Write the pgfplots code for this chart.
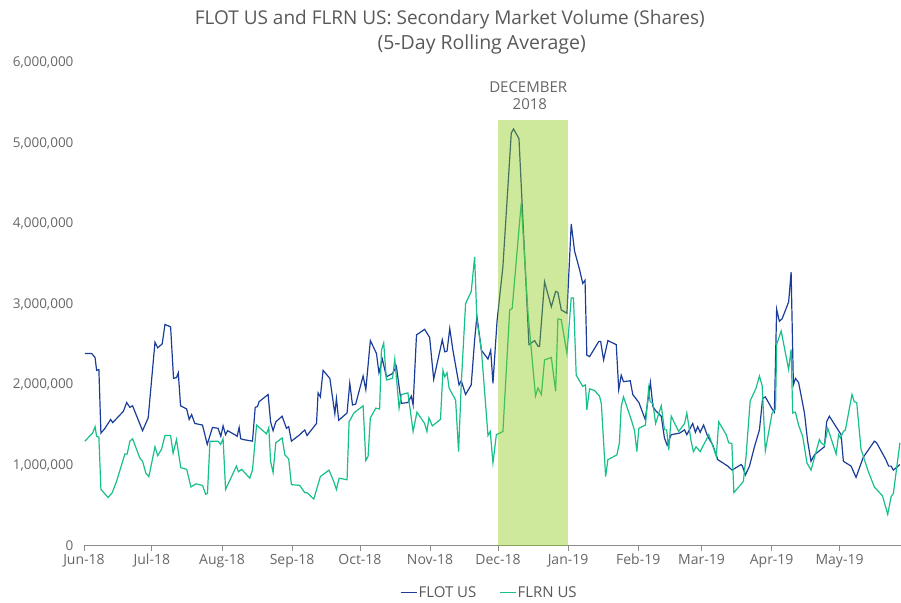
\documentclass[border=0pt]{standalone}
\usepackage{pgfplots}
\pgfplotsset{compat=1.18}
\usepackage{fontspec}
\setmainfont{Open Sans}
\definecolor{flot}{RGB}{26,61,153}
\definecolor{flrn}{RGB}{22,191,140}
\definecolor{band}{RGB}{132,197,7}
\definecolor{txt}{RGB}{89,89,89}
\definecolor{tick}{RGB}{102,102,102}
\definecolor{axl}{RGB}{140,140,140}
\begin{document}
\begin{tikzpicture}
\begin{axis}[
  scale only axis,
  width=817pt, height=483pt,
  xmin=0, xmax=361, ymin=0, ymax=6,
  axis x line*=bottom, axis y line*=left,
  y axis line style={draw=none},
  x axis line style={draw=axl, line width=0.8pt},
  ytick={0,1,2,3,4,5,6},
  yticklabels={{0},{1,000,000},{2,000,000},{3,000,000},{4,000,000},{5,000,000},{6,000,000}},
  ytick style={draw=none},
  yticklabel style={font=\fontsize{13.5}{15}\selectfont, text=tick, xshift=-2pt},
  xtick={0,30,61,92,122,153,183,214,245,273,304,334},
  xticklabels={Jun-18,Jul-18,Aug-18,Sep-18,Oct-18,Nov-18,Dec-18,Jan-19,Feb-19,Mar-19,Apr-19,May-19},
  tick align=outside,
  major tick length=5pt,
  xtick style={draw=axl, line width=0.8pt},
  xticklabel style={font=\fontsize{14}{16}\selectfont, text=tick},
  legend style={at={(0.496,-0.097)}, anchor=center, draw=none, fill=none,
    font=\fontsize{15}{17}\selectfont, text=txt, legend columns=2,
    /tikz/every even column/.append style={column sep=22pt},
    nodes={inner sep=1pt}},
  legend image code/.code={\draw[#1] (0pt,0pt) -- (16pt,0pt);},
  clip=false,
]
\addplot[flot, line width=1.2pt] coordinates {
(0.4,2.39)(3.4,2.39)(4.9,2.34)(5.6,2.18)(6.6,2.19)(7.5,1.40)(9.3,1.46)(11.8,1.57)(12.7,1.53)(17.4,1.67)(18.9,1.78)(20.3,1.72)(21.5,1.74)(25.9,1.43)(28.4,1.59)(31.4,2.53)(32.6,2.46)(34.6,2.51)(35.8,2.75)(38.3,2.72)(39.6,2.08)(40.9,2.09)(41.7,2.15)(42.7,1.74)(45.4,1.70)(46.5,1.57)(47.6,1.63)(49.0,1.52)(52.4,1.50)(54.5,1.26)(56.8,1.47)(59.3,1.46)(60.5,1.36)(61.5,1.49)(62.6,1.38)(63.5,1.43)(66.7,1.38)(67.7,1.36)(68.6,1.47)(69.3,1.33)(70.4,1.32)(74.5,1.30)(75.7,1.72)(76.7,1.73)(77.4,1.79)(81.4,1.88)(82.5,1.54)(83.6,1.43)(84.8,1.54)(87.6,1.61)(89.5,1.46)(90.5,1.48)(91.7,1.30)(95.4,1.38)(97.6,1.44)(98.6,1.37)(102.8,1.52)(103.5,1.90)(104.5,1.85)(105.7,2.18)(108.7,2.08)(110.9,1.64)(111.6,1.83)(112.6,1.56)(116.3,1.65)(117.5,2.02)(118.7,1.75)(120.1,1.76)(123.4,2.11)(124.6,1.94)(126.6,2.55)(129.3,2.39)(130.4,2.15)(131.9,2.32)(133.7,2.10)(136.4,2.14)(138.1,2.23)(140.3,1.77)(143.2,1.78)(144.7,1.86)(145.5,1.75)(147.0,2.62)(150.6,2.69)(152.8,2.59)(154.6,2.07)(158.4,2.56)(159.5,2.41)(160.5,2.42)(161.7,2.70)(163.1,2.43)(165.8,2.00)(166.8,2.05)(168.7,1.88)(171.2,2.00)(172.7,2.56)(173.7,2.85)(175.7,2.43)(178.6,2.32)(179.8,2.43)(180.8,2.02)(182.6,2.79)(185.2,3.47)(188.9,5.13)(189.9,5.18)(192.3,5.06)(196.7,2.50)(199.2,2.55)(200.7,2.48)(201.4,2.48)(203.6,3.28)(206.6,2.97)(208.5,3.16)(209.5,3.15)(211.0,2.93)(213.5,2.89)(215.4,4.00)(216.9,3.66)(219.1,3.43)(220.5,3.26)(221.5,3.30)(222.3,2.37)(223.5,2.35)(227.6,2.54)(228.4,2.54)(229.7,2.31)(231.6,2.55)(235.3,2.50)(236.4,1.94)(237.5,2.12)(238.5,2.04)(241.5,2.05)(242.6,1.88)(245.3,1.78)(248.1,1.57)(250.4,2.03)(251.5,1.73)(252.7,1.68)(255.2,1.61)(256.6,1.34)(257.8,1.25)(259.6,1.38)(263.3,1.40)(265.5,1.44)(266.5,1.38)(269.1,1.52)(270.3,1.41)(271.3,1.48)(272.4,1.41)(273.9,1.50)(275.7,1.36)(278.0,1.25)(280.2,1.07)(284.6,0.99)(286.5,0.94)(290.5,1.01)(291.1,0.99)(292.4,0.88)(294.2,0.99)(296.4,1.23)(298.6,1.44)(300.0,1.83)(301.2,1.85)(304.2,1.70)(305.2,1.66)(306.2,2.94)(307.4,2.79)(308.6,2.82)(311.5,3.03)(312.6,3.40)(313.6,2.00)(314.5,2.08)(315.9,2.03)(318.5,1.65)(319.9,1.30)(321.4,1.05)(322.9,1.13)(327.3,1.23)(328.3,1.54)(329.5,1.61)(334.7,1.38)(335.7,1.05)(339.1,0.99)(341.3,0.85)(344.5,1.10)(349.4,1.30)(350.4,1.28)(354.5,1.07)(355.7,0.99)(356.8,0.99)(357.8,0.94)(360.7,1.01)
};
\addlegendentry{FLOT US}
\addplot[flrn, line width=1.2pt] coordinates {
(0.4,1.30)(3.8,1.40)(4.9,1.48)(5.6,1.36)(6.6,1.35)(7.5,0.70)(10.7,0.60)(12.5,0.66)(14.4,0.80)(18.1,1.14)(19.1,1.14)(20.3,1.30)(21.5,1.33)(24.7,1.09)(25.9,1.05)(27.4,0.90)(28.7,0.86)(31.4,1.23)(32.6,1.12)(34.3,1.20)(35.8,1.37)(38.3,1.37)(39.4,1.15)(40.9,1.32)(42.8,0.97)(45.4,0.95)(47.3,0.73)(49.5,0.77)(52.4,0.75)(53.8,0.64)(54.6,0.65)(55.7,1.30)(59.3,1.30)(60.4,1.26)(61.5,1.33)(62.6,0.70)(67.4,0.99)(68.3,0.92)(69.7,0.95)(73.3,0.84)(74.5,0.94)(76.3,1.50)(80.7,1.39)(81.7,1.47)(82.5,1.05)(83.6,0.91)(84.8,1.28)(87.6,1.34)(88.8,1.13)(90.5,1.08)(91.7,0.76)(95.4,0.75)(97.6,0.66)(98.6,0.66)(101.6,0.58)(104.5,0.86)(108.3,0.94)(110.4,0.80)(111.6,0.70)(112.8,0.84)(116.3,0.82)(117.2,1.54)(119.3,1.65)(123.4,1.74)(124.6,1.06)(125.6,1.11)(126.6,1.59)(129.0,1.71)(130.7,1.70)(131.5,2.43)(132.5,2.52)(133.7,2.06)(136.4,2.08)(137.4,2.32)(139.3,1.71)(140.3,1.88)(143.2,1.90)(145.5,1.42)(147.2,1.66)(148.4,1.61)(150.6,1.52)(151.6,1.42)(152.5,1.59)(154.0,1.49)(157.6,1.57)(158.7,2.18)(159.5,2.10)(160.5,2.15)(161.4,1.96)(164.3,1.81)(165.6,1.17)(166.8,2.02)(168.7,3.01)(171.2,3.16)(172.7,3.59)(173.7,2.81)(175.7,2.43)(178.6,1.37)(179.6,1.42)(180.8,1.03)(182.3,1.38)(185.2,1.42)(188.2,2.93)(189.3,2.95)(193.3,4.26)(196.3,2.89)(199.6,1.86)(200.7,1.96)(202.2,1.88)(203.6,2.31)(206.6,2.34)(208.5,1.92)(209.5,2.82)(211.0,2.81)(213.5,2.39)(215.4,3.08)(216.4,3.08)(217.6,2.12)(220.5,1.98)(221.7,2.00)(222.3,1.69)(223.5,1.95)(225.7,1.93)(227.9,1.86)(228.7,1.77)(230.6,0.86)(231.6,1.07)(235.6,1.13)(236.7,1.28)(237.5,1.73)(238.5,1.85)(241.9,1.57)(243.4,1.43)(244.4,1.17)(245.3,1.46)(248.2,1.50)(249.6,1.95)(250.3,1.79)(251.5,1.77)(252.7,1.52)(255.2,1.74)(256.6,1.44)(257.6,1.44)(258.5,1.19)(259.6,1.61)(262.9,1.42)(265.5,1.52)(266.5,1.65)(268.4,1.30)(269.4,1.17)(270.6,1.23)(272.4,1.17)(276.2,1.38)(278.0,1.24)(279.5,1.11)(280.6,1.54)(283.9,1.38)(285.0,1.28)(286.4,1.27)(287.3,0.66)(291.5,0.80)(292.7,1.12)(294.5,1.80)(297.1,1.96)(298.6,2.11)(299.8,1.99)(301.2,1.18)(304.2,1.65)(305.7,1.70)(306.2,2.50)(308.2,2.67)(311.5,2.19)(312.6,2.44)(313.3,1.65)(314.5,1.66)(315.9,1.50)(317.7,1.36)(319.6,1.03)(321.4,0.94)(325.1,1.32)(325.9,1.28)(327.3,1.25)(328.8,1.46)(332.5,1.14)(333.6,1.38)(334.4,1.34)(335.7,1.42)(336.6,1.44)(339.5,1.88)(340.5,1.79)(341.6,1.78)(343.5,1.20)(346.5,0.94)(349.4,0.73)(353.0,0.62)(355.3,0.39)(356.8,0.61)(357.8,0.65)(360.7,1.28)
};
\addlegendentry{FLRN US}
\addplot[draw=none, fill=band, fill opacity=0.4, forget plot] coordinates {(183,0)(183,5.29)(214,5.29)(214,0)} -- cycle;
\node[anchor=base, text=txt, font=\fontsize{19}{23}\selectfont] at (rel axis cs:0.448,1.0807) {FLOT US and FLRN US: Secondary Market Volume (Shares)};
\node[anchor=base, text=txt, font=\fontsize{19.5}{23}\selectfont] at (rel axis cs:0.487,1.0269) {(5-Day Rolling Average)};
\node[anchor=base, text=tick, font=\fontsize{15}{17}\selectfont] at (rel axis cs:0.544,0.9379) {DECEMBER};
\node[anchor=base, text=tick, font=\fontsize{15}{17}\selectfont] at (rel axis cs:0.546,0.9027) {2018};
\end{axis}
\path (current axis.south west) ++(-84pt,-57pt) rectangle ++(901pt,603pt);
\end{tikzpicture}
\end{document}
